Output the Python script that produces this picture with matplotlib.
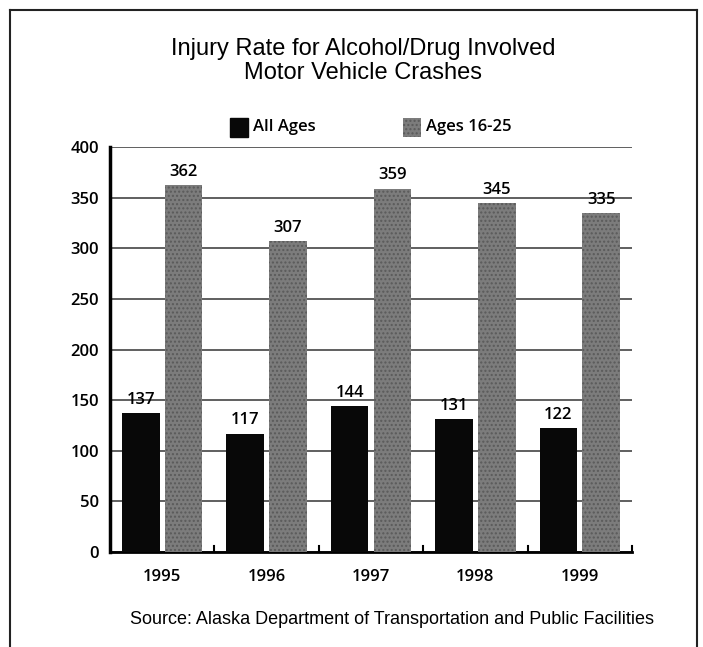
import matplotlib.pyplot as plt
import numpy as np
from matplotlib.lines import Line2D

years = ['1995', '1996', '1997', '1998', '1999']
all_ages = [137, 117, 144, 131, 122]
ages_16_25 = [362, 307, 359, 345, 335]

fig = plt.figure(figsize=(7.03, 6.47), dpi=100)
ax = fig.add_axes([0.1565, 0.1468, 0.7425, 0.626])

x = np.arange(len(years))
w = 0.36
ax.bar(x - 0.205, all_ages, w, color='#080808', zorder=3)
ax.bar(x + 0.205, ages_16_25, w, color='#7c7c7c', edgecolor='#5a5a5a',
       hatch='....', linewidth=0, zorder=3)

lab_font = dict(family='Open Sans', weight='semibold', size=12)
for xi, v in zip(x, all_ages):
    ax.text(xi - 0.205, v + 5, str(v), ha='center', va='bottom', **lab_font)
for xi, v in zip(x, ages_16_25):
    ax.text(xi + 0.205, v + 5, str(v), ha='center', va='bottom', **lab_font)

ax.set_xlim(-0.5, 4.5)
ax.set_ylim(0, 400)
ax.set_yticks(range(0, 401, 50))
ax.set_xticks(x)
ax.set_xticklabels(years)
ax.tick_params(axis='y', length=0, pad=8)
ax.tick_params(axis='x', length=0, pad=12)
for t in ax.get_xticklabels() + ax.get_yticklabels():
    t.set_fontfamily('Open Sans')
    t.set_fontweight('semibold')
    t.set_fontsize(12)

# boundary ticks on the x axis
for b in np.arange(0.5, 5.0, 1.0):
    ax.plot([b, b], [0, 6], color='black', lw=1.5, zorder=4, clip_on=False)

ax.grid(axis='y', color='#444444', lw=1.2, zorder=0)
for s in ['top', 'right']:
    ax.spines[s].set_visible(False)
ax.spines['left'].set_linewidth(2.5)
ax.spines['bottom'].set_linewidth(2.0)

# title
fig.text(363 / 703, 1 - 61 / 647, 'Injury Rate for Alcohol/Drug Involved\nMotor Vehicle Crashes',
         ha='center', va='center', family='Liberation Sans', size=17, linespacing=1.15)

# legend
fig.patches.append(plt.Rectangle((230 / 703, 1 - 137 / 647), 18 / 703, 19 / 647,
                                 transform=fig.transFigure, color='#080808'))
fig.patches.append(plt.Rectangle((403 / 703, 1 - 137 / 647), 18 / 703, 19 / 647,
                                 transform=fig.transFigure, facecolor='#7c7c7c',
                                 edgecolor='#5a5a5a', hatch='....', lw=0))
fig.text(253 / 703, 1 - 127 / 647, 'All Ages', va='center', **lab_font)
fig.text(426 / 703, 1 - 127 / 647, 'Ages 16-25', va='center', **lab_font)

# source
fig.text(392 / 703, 1 - 620 / 647, 'Source: Alaska Department of Transportation and Public Facilities',
         ha='center', va='center', family='Liberation Sans', size=13)

# frame
fl, fr, ft = 10 / 703, 697 / 703, 1 - 10 / 647
fig.lines.append(Line2D([fl, fl], [0, ft], color='#222222', lw=1.5, transform=fig.transFigure))
fig.lines.append(Line2D([fl, fr], [ft, ft], color='#222222', lw=1.5, transform=fig.transFigure))
fig.lines.append(Line2D([fr, fr], [0, ft], color='#222222', lw=1.5, transform=fig.transFigure))

fig.savefig('out.png')
